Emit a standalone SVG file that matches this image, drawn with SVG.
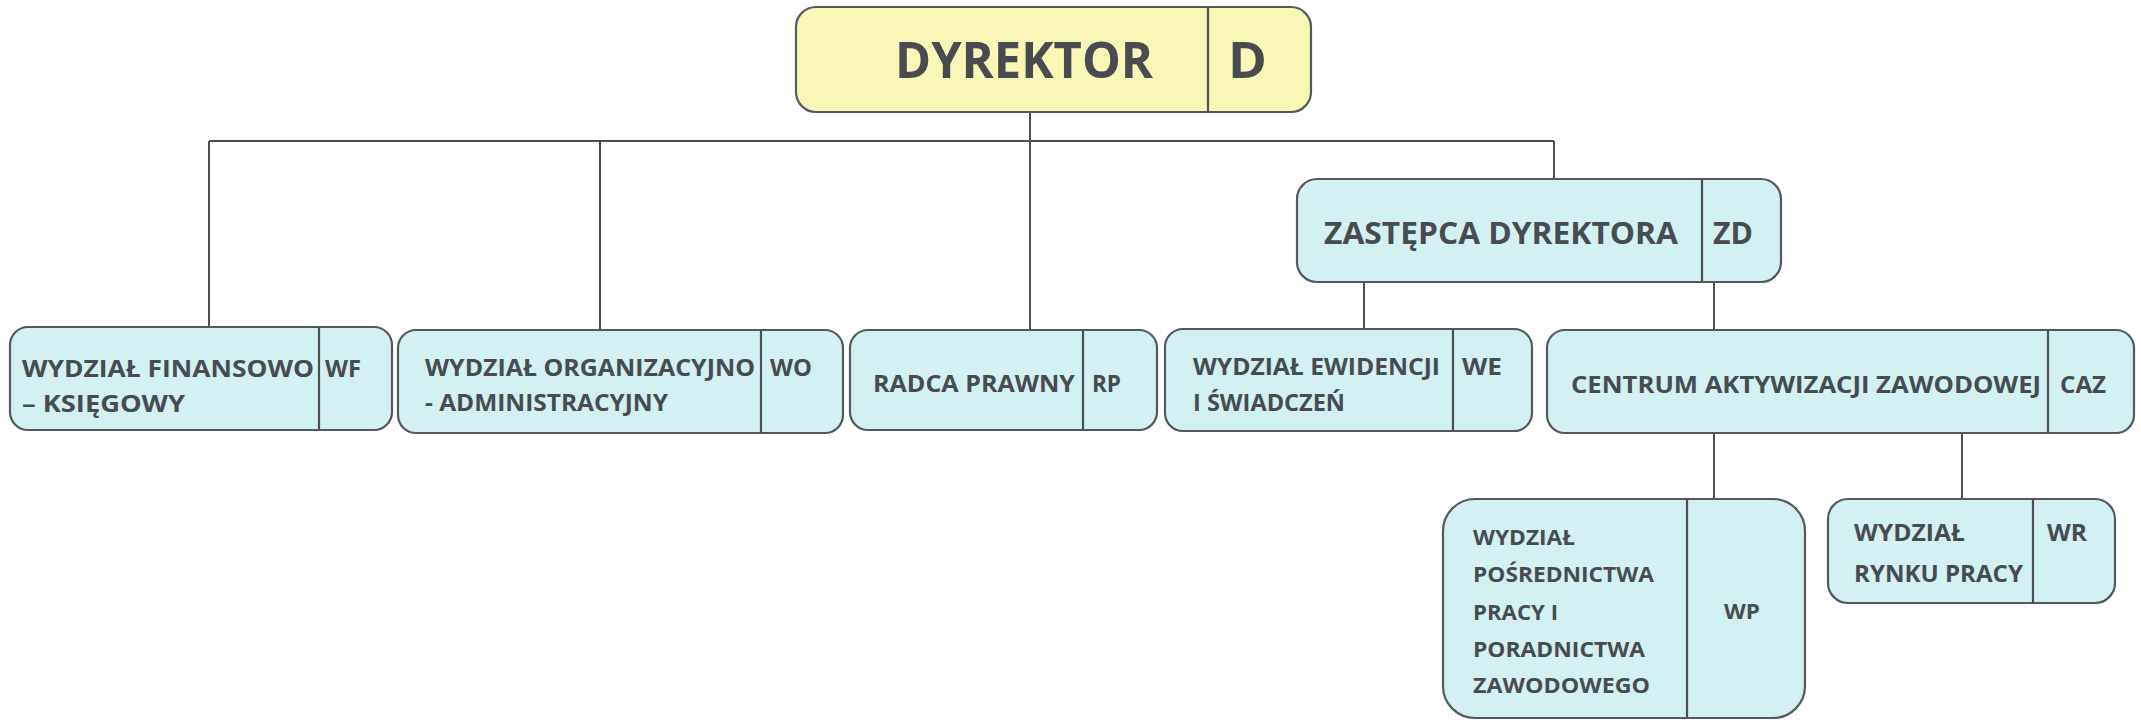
<svg xmlns="http://www.w3.org/2000/svg" width="2141" height="720" viewBox="0 0 2141 720">
<style>
.box{fill:#d3f0f2;stroke:#55595e;stroke-width:2.2}
.boss{fill:#f9f7b6;stroke:#55595e;stroke-width:2.2}
.div{stroke:#4a4e53;stroke-width:2.2}
.t{font-family:"Open Sans","Liberation Sans",sans-serif;font-weight:700;fill:#484b50}
.c{stroke:#4a4e53;stroke-width:2;fill:none}
</style>
<rect width="2141" height="720" fill="#ffffff"/>
<g id="connectors">
<line class="c" x1="209" y1="141" x2="1554" y2="141"/>
<line class="c" x1="209" y1="141" x2="209" y2="327"/>
<line class="c" x1="600" y1="141" x2="600" y2="330"/>
<line class="c" x1="1030" y1="112" x2="1030" y2="330"/>
<line class="c" x1="1554" y1="141" x2="1554" y2="179"/>
<line class="c" x1="1364" y1="282" x2="1364" y2="329"/>
<line class="c" x1="1714" y1="282" x2="1714" y2="330"/>
<line class="c" x1="1714" y1="433" x2="1714" y2="499"/>
<line class="c" x1="1962" y1="433" x2="1962" y2="499"/>
</g>
<g id="D">
<rect class="boss" x="796" y="7" width="515" height="105" rx="20"/>
<line class="div" x1="1208" y1="7" x2="1208" y2="112"/>
<text class="t" x="895" y="78" font-size="50" textLength="258" lengthAdjust="spacingAndGlyphs">DYREKTOR</text>
<text class="t" x="1228" y="78" font-size="50" textLength="39" lengthAdjust="spacingAndGlyphs">D</text>
</g>
<g id="ZD">
<rect class="box" x="1297" y="179" width="484" height="103" rx="20"/>
<line class="div" x1="1702" y1="179" x2="1702" y2="282"/>
<text class="t" x="1324" y="244" font-size="31" textLength="354" lengthAdjust="spacingAndGlyphs">ZASTĘPCA DYREKTORA</text>
<text class="t" x="1713" y="244" font-size="31" textLength="40" lengthAdjust="spacingAndGlyphs">ZD</text>
</g>
<g id="WF">
<rect class="box" x="10" y="327" width="382" height="103" rx="18"/>
<line class="div" x1="319" y1="327" x2="319" y2="430"/>
<text class="t" x="22" y="377" font-size="24" textLength="292" lengthAdjust="spacingAndGlyphs">WYDZIAŁ FINANSOWO</text>
<text class="t" x="22" y="412" font-size="24" textLength="163" lengthAdjust="spacingAndGlyphs">– KSIĘGOWY</text>
<text class="t" x="325" y="377" font-size="24" textLength="36" lengthAdjust="spacingAndGlyphs">WF</text>
</g>
<g id="WO">
<rect class="box" x="398" y="330" width="445" height="103" rx="18"/>
<line class="div" x1="761" y1="330" x2="761" y2="433"/>
<text class="t" x="425" y="376" font-size="24" textLength="330" lengthAdjust="spacingAndGlyphs">WYDZIAŁ ORGANIZACYJNO</text>
<text class="t" x="425" y="411" font-size="24" textLength="243" lengthAdjust="spacingAndGlyphs">- ADMINISTRACYJNY</text>
<text class="t" x="770" y="376" font-size="24" textLength="42" lengthAdjust="spacingAndGlyphs">WO</text>
</g>
<g id="RP">
<rect class="box" x="850" y="330" width="307" height="100" rx="18"/>
<line class="div" x1="1083" y1="330" x2="1083" y2="430"/>
<text class="t" x="873" y="392" font-size="24" textLength="202" lengthAdjust="spacingAndGlyphs">RADCA PRAWNY</text>
<text class="t" x="1092" y="392" font-size="24" textLength="29" lengthAdjust="spacingAndGlyphs">RP</text>
</g>
<g id="WE">
<rect class="box" x="1165" y="329" width="367" height="102" rx="18"/>
<line class="div" x1="1453" y1="329" x2="1453" y2="431"/>
<text class="t" x="1193" y="375" font-size="24" textLength="247" lengthAdjust="spacingAndGlyphs">WYDZIAŁ EWIDENCJI</text>
<text class="t" x="1193" y="411" font-size="24" textLength="152" lengthAdjust="spacingAndGlyphs">I ŚWIADCZEŃ</text>
<text class="t" x="1462" y="375" font-size="24" textLength="40" lengthAdjust="spacingAndGlyphs">WE</text>
</g>
<g id="CAZ">
<rect class="box" x="1547" y="330" width="587" height="103" rx="18"/>
<line class="div" x1="2048" y1="330" x2="2048" y2="433"/>
<text class="t" x="1571" y="393" font-size="24" textLength="470" lengthAdjust="spacingAndGlyphs">CENTRUM AKTYWIZACJI ZAWODOWEJ</text>
<text class="t" x="2060" y="393" font-size="24" textLength="46" lengthAdjust="spacingAndGlyphs">CAZ</text>
</g>
<g id="WP">
<rect class="box" x="1443" y="499" width="362" height="219" rx="32"/>
<line class="div" x1="1687" y1="499" x2="1687" y2="718"/>
<text class="t" x="1473" y="545" font-size="21.5" textLength="102" lengthAdjust="spacingAndGlyphs">WYDZIAŁ</text>
<text class="t" x="1473" y="582" font-size="21.5" textLength="181" lengthAdjust="spacingAndGlyphs">POŚREDNICTWA</text>
<text class="t" x="1473" y="620" font-size="21.5" textLength="85" lengthAdjust="spacingAndGlyphs">PRACY I</text>
<text class="t" x="1473" y="657" font-size="21.5" textLength="172" lengthAdjust="spacingAndGlyphs">PORADNICTWA</text>
<text class="t" x="1473" y="693" font-size="21.5" textLength="177" lengthAdjust="spacingAndGlyphs">ZAWODOWEGO</text>
<text class="t" x="1724" y="619" font-size="21.5" textLength="36" lengthAdjust="spacingAndGlyphs">WP</text>
</g>
<g id="WR">
<rect class="box" x="1828" y="499" width="287" height="104" rx="20"/>
<line class="div" x1="2033" y1="499" x2="2033" y2="603"/>
<text class="t" x="1854" y="541" font-size="23" textLength="111" lengthAdjust="spacingAndGlyphs">WYDZIAŁ</text>
<text class="t" x="1854" y="582" font-size="23" textLength="169" lengthAdjust="spacingAndGlyphs">RYNKU PRACY</text>
<text class="t" x="2047" y="541" font-size="23" textLength="40" lengthAdjust="spacingAndGlyphs">WR</text>
</g>
</svg>
